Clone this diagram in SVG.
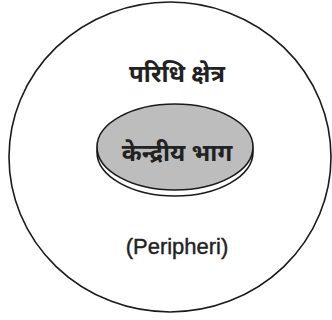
<svg xmlns="http://www.w3.org/2000/svg" width="332" height="320" viewBox="0 0 332 320">
<style>
.line{stroke:#1a1a1a;stroke-width:1.6}
.dev{font-family:"Noto Sans Devanagari","Noto Sans","Lohit Devanagari",sans-serif;font-size:24px;font-weight:bold;fill:#222;text-anchor:middle}
.lat{font-family:"Liberation Sans",Arial,sans-serif;font-size:22px;fill:#222;stroke:#222;stroke-width:0.4;text-anchor:middle}
</style>
<rect width="332" height="320" fill="#fff"/>
<g id="periphery">
<ellipse class="line" cx="170" cy="157" rx="161" ry="155" fill="#fff"/>
<text class="dev" x="177" y="82">परिधि क्षेत्र</text>
<text class="lat" x="177" y="254">(Peripheri)</text>
</g>
<g id="core">
<ellipse class="line" cx="175" cy="152" rx="78" ry="44" fill="#fff"/>
<ellipse class="line" cx="175" cy="147" rx="78" ry="43" fill="#bdbdbd"/>
<text class="dev" x="177" y="161">केन्द्रीय भाग</text>
</g>
<g id="connectors"></g>
</svg>
